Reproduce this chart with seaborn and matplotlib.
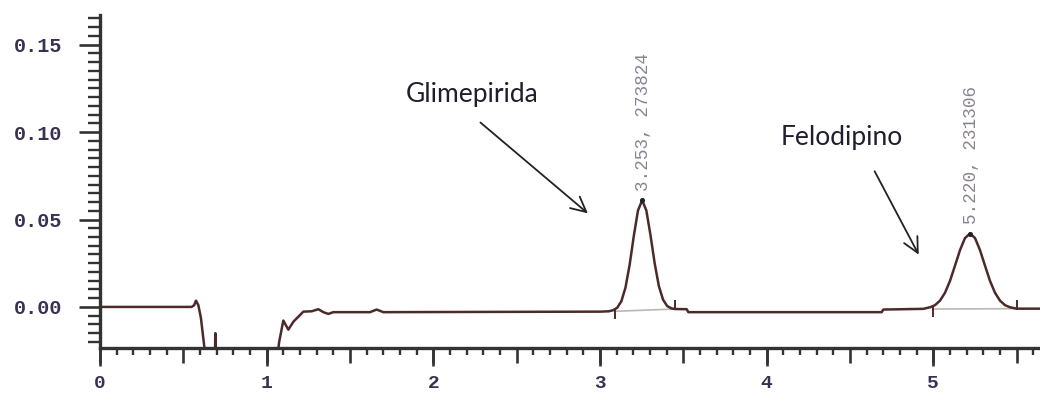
import numpy as np
import pandas as pd
import matplotlib
matplotlib.use("Agg")
import matplotlib.pyplot as plt
from matplotlib.ticker import MultipleLocator, FuncFormatter
import seaborn as sns

# ---- data ----
time_min = [0.00, 0.55, 0.565, 0.576, 0.590, 0.605, 0.620, 0.635, 0.650, 0.688, 0.692, 0.696,
            1.050, 1.075, 1.100, 1.130, 1.160, 1.220, 1.270, 1.310, 1.340, 1.370, 1.400,
            1.620, 1.660, 1.700, 3.000,
            3.053, 3.078, 3.103, 3.128, 3.153, 3.178, 3.203, 3.228, 3.253,
            3.278, 3.303, 3.328, 3.353, 3.378, 3.403, 3.428, 3.450, 3.520, 3.530,
            4.690, 4.700, 4.940,
            4.980, 5.010, 5.040, 5.070, 5.100, 5.130, 5.160, 5.190, 5.220,
            5.250, 5.280, 5.310, 5.340, 5.370, 5.400, 5.430, 5.460, 5.500, 5.640]
signal_au = [0.0000, 0.0000, 0.0010, 0.0036, 0.0010, -0.0060, -0.0180, -0.0300, -0.0400, -0.0400, -0.0150, -0.0400,
             -0.0400, -0.0200, -0.0078, -0.0130, -0.0085, -0.0027, -0.0025, -0.0013, -0.0030, -0.0040, -0.0030,
             -0.0030, -0.0015, -0.0030, -0.0027,
             -0.0025, -0.0019, -0.0005, 0.0032, 0.0111, 0.0242, 0.0407, 0.0552, 0.0610,
             0.0552, 0.0410, 0.0250, 0.0120, 0.0042, 0.0005, -0.0008, -0.0012, -0.0013, -0.0030,
             -0.0030, -0.0015, -0.0011,
             -0.0002, 0.0010, 0.0036, 0.0081, 0.0149, 0.0236, 0.0325, 0.0394, 0.0420,
             0.0394, 0.0325, 0.0236, 0.0149, 0.0081, 0.0036, 0.0010, -0.0002, -0.0010, -0.0010]

peak_rt = [3.253, 5.220]
peak_top = [0.0610, 0.0420]
peak_labels = ["3.253, 273824", "5.220, 231306"]
peak_start_t = [3.088, 5.000]
peak_start_y = [-0.0025, -0.0012]
peak_end_t = [3.450, 5.500]
peak_end_y = [-0.0012, -0.0010]

compound_names = ["Glimepirida", "Felodipino"]
name_xy = [(2.23, 0.1215), (4.45, 0.0968)]
arrow_from = [(2.27, 0.1065), (4.64, 0.0790)]
arrow_to = [(2.94, 0.0525), (4.92, 0.0285)]

y_ticks = [0.00, 0.05, 0.10, 0.15]
x_ticks = [0, 1, 2, 3, 4, 5]

df = pd.DataFrame({"time": time_min, "signal": signal_au})

# ---- figure ----
sns.set_theme(style="white")
plt.rcParams["font.family"] = ["DejaVu Sans"]
fig = plt.figure(figsize=(10.4, 3.94), dpi=100)
ax = fig.add_axes([100 / 1040, 46 / 394, 940 / 1040, 333 / 394])

trace_color = "#4d2a2a"
sns.lineplot(data=df, x="time", y="signal", ax=ax, color=trace_color, lw=1.8,
             sort=False, estimator=None)

# integration baselines
for t0, y0, t1, y1 in zip(peak_start_t, peak_start_y, peak_end_t, peak_end_y):
    ax.plot([t0, t1], [y0, y1], color="#b8b8b8", lw=1.2, zorder=1)
# peak start / end markers
ax.vlines(peak_start_t, [y - 0.0045 for y in peak_start_y], [y + 0.0010 for y in peak_start_y],
          color=trace_color, lw=1.4)
ax.vlines(peak_end_t, [y - 0.0005 for y in peak_end_y], [y + 0.0050 for y in peak_end_y],
          color=trace_color, lw=1.4)
ax.scatter(peak_rt, peak_top, s=7, color="#222222", zorder=5)

for rt, top, lab in zip(peak_rt, peak_top, peak_labels):
    ax.text(rt + 0.01, top + 0.0055, lab, rotation=90, ha="center", va="bottom",
            family="Liberation Mono", fontsize=12.7, color="#8a8290")

for name, xy, a0, a1 in zip(compound_names, name_xy, arrow_from, arrow_to):
    ax.text(xy[0], xy[1], name, ha="center", va="center", family="Lato",
            fontsize=19, color="#1e1e2e")
    ax.annotate("", xy=a1, xytext=a0,
                arrowprops=dict(arrowstyle="->,head_length=0.9,head_width=0.45",
                                color="#222222", lw=1.3))

ax.set_xlim(0, 5.64)
ax.set_ylim(-0.0235, 0.167)
ax.set_xlabel("")
ax.set_ylabel("")

for s in ["top", "right"]:
    ax.spines[s].set_visible(False)
for s in ["left", "bottom"]:
    ax.spines[s].set_color("#333333")
    ax.spines[s].set_linewidth(2.4)

ax.xaxis.set_major_locator(MultipleLocator(0.5))
ax.xaxis.set_minor_locator(MultipleLocator(0.1))
ax.xaxis.set_major_formatter(FuncFormatter(lambda v, p: f"{int(round(v))}" if abs(v - round(v)) < 1e-6 else ""))
ax.set_yticks(y_ticks)
ax.yaxis.set_minor_locator(MultipleLocator(0.005))
ax.yaxis.set_major_formatter(FuncFormatter(lambda v, p: f"{v:.2f}"))

lab_color = "#3a3052"
ax.tick_params(axis="x", which="major", direction="out", length=10.5, width=1.9,
               color="#333333", labelsize=14, labelcolor=lab_color, pad=9, bottom=True)
ax.tick_params(axis="x", which="minor", direction="out", length=5, width=1.7,
               color="#333333", bottom=True)
ax.tick_params(axis="y", which="major", direction="out", length=15, width=1.9,
               color="#333333", labelsize=14.5, labelcolor=lab_color, pad=12, left=True)
ax.tick_params(axis="y", which="minor", direction="out", length=8.5, width=1.7,
               color="#333333", left=True)
for lab in ax.get_xticklabels() + ax.get_yticklabels():
    lab.set_family("Liberation Mono")
    lab.set_fontweight("bold")

# longer ticks at integer minutes
sec = ax.secondary_xaxis("bottom")
sec.set_xticks(x_ticks)
sec.set_xticklabels([""] * len(x_ticks))
sec.tick_params(axis="x", direction="out", length=13, width=1.9, color="#333333")
sec.spines["bottom"].set_visible(False)

ax.grid(False)
fig.savefig("out.png", dpi=100, facecolor="white")
